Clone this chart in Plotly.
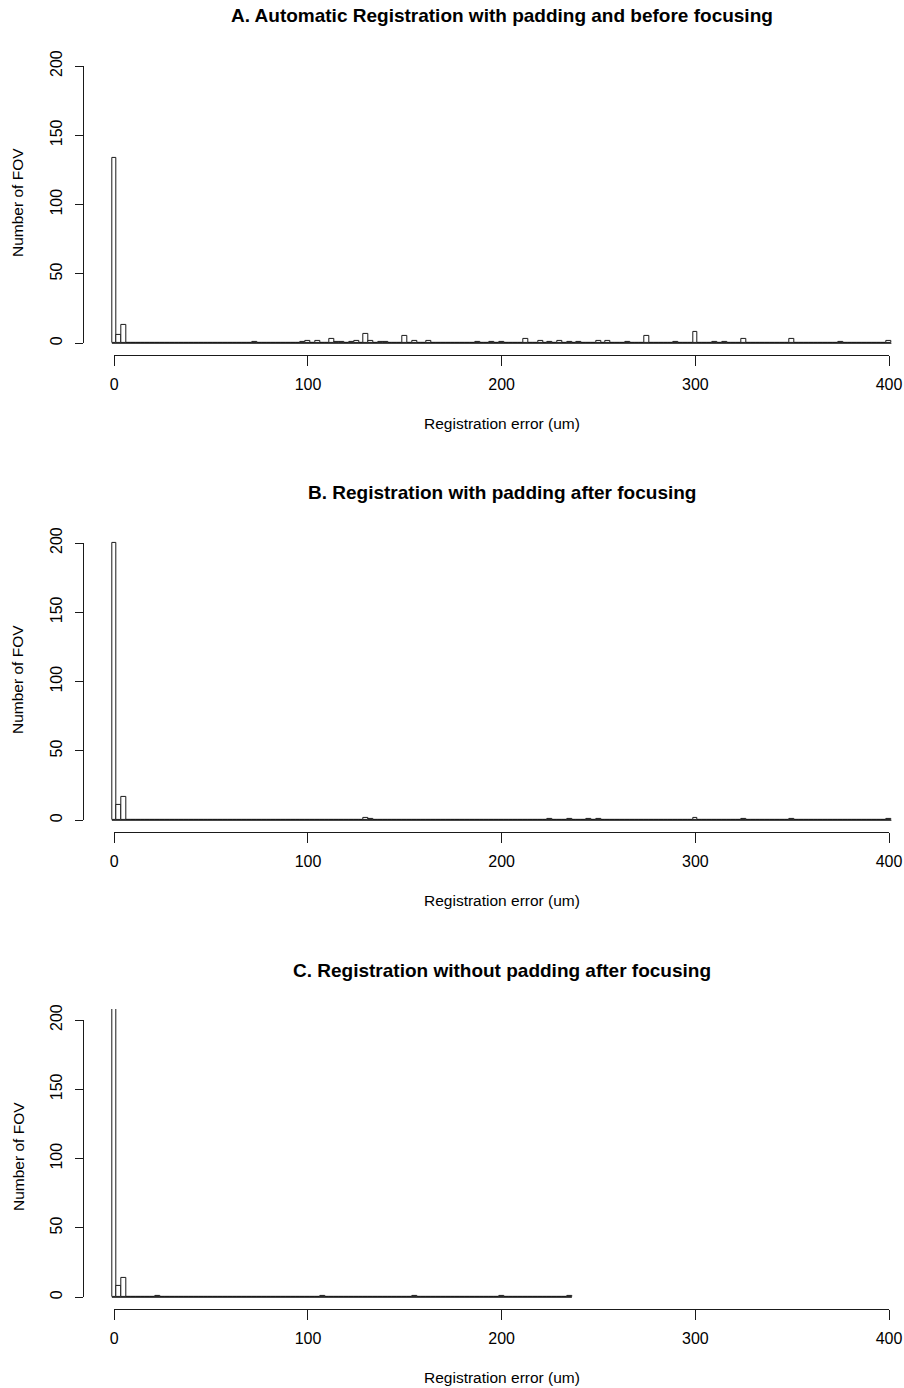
import plotly.graph_objects as go

# ---------------- data (histogram bins: centre, count) ----------------
BIN_WIDTH = 2.5

a_centers = [0, 2.5, 5, 72.5, 97.5, 100, 105, 112.5, 115, 117.5, 122.5, 125, 130, 132.5,
             137.5, 140, 150, 155, 162.5, 187.5, 195, 200, 212.5, 220, 225, 230, 235, 240,
             250, 255, 265, 275, 290, 300, 310, 315, 325, 350, 375, 400]
a_counts = [134, 6, 13, 1, 1, 2, 2, 3, 1, 1, 1, 2, 7, 2,
            1, 1, 5, 2, 2, 1, 1, 1, 3, 2, 1, 2, 1, 1,
            2, 2, 1, 5, 1, 8, 1, 1, 3, 3, 1, 2]

b_centers = [0, 2.5, 5, 130, 132.5, 225, 235, 245, 250, 300, 325, 350, 400]
b_counts = [200, 11, 17, 2, 1, 1, 1, 1, 1, 2, 1, 1, 1]

c_centers = [0, 2.5, 5, 22.5, 107.5, 155, 200, 235]
c_counts = [250, 8, 14, 1, 1, 1, 1, 1]

titles = ["A. Automatic Registration with padding and before focusing",
          "B. Registration with padding after focusing",
          "C. Registration without padding after focusing"]
x_label = "Registration error (um)"
y_label = "Number of FOV"
x_ticks = [0, 100, 200, 300, 400]
y_ticks = [0, 50, 100, 150, 200]

panels = [(a_centers, a_counts), (b_centers, b_counts), (c_centers, c_counts)]

# ---------------- layout geometry (pixels) ----------------
W, H = 904, 1388
STEP = 477
FONT = "Liberation Sans, Arial, sans-serif"
LINE = "#1a1a1a"

X0_PX, X400_PX = 114.3, 889.0
PX_PER_X = (X400_PX - X0_PX) / 400
PLOT_LEFT_PX = 83.3
Y0_PX, Y200_PX = 343.3, 66.0
PX_PER_Y = (Y0_PX - Y200_PX) / 200


def px_x(p):
    return p / W


def px_y(p):
    return 1 - p / H


fig = go.Figure()
layout = dict(
    template="none",
    width=W, height=H, autosize=False,
    margin=dict(l=0, r=0, t=0, b=0, pad=0, autoexpand=False),
    paper_bgcolor="white",
    plot_bgcolor="rgba(0,0,0,0)",
    showlegend=False,
    bargap=0,
    font=dict(family=FONT, size=16, color="black"),
)
annotations = []

for k, (centers, counts) in enumerate(panels):
    d = STEP * k
    main_id = k + 1
    deco_id = k + 4
    mx = "x" if main_id == 1 else f"x{main_id}"
    my = "y" if main_id == 1 else f"y{main_id}"
    dx, dy = f"x{deco_id}", f"y{deco_id}"

    # full bin arrays (zero-count bins included)
    n = int(round(max(centers) / BIN_WIDTH)) + 1
    full_x = [i * BIN_WIDTH for i in range(n)]
    full_y = [0] * n
    for c, v in zip(centers, counts):
        full_y[int(round(c / BIN_WIDTH))] = v

    fig.add_trace(go.Bar(
        x=full_x, y=full_y, width=BIN_WIDTH,
        marker=dict(color="white", line=dict(color=LINE, width=1)),
        xaxis=mx, yaxis=my, hoverinfo="skip",
    ))
    # baseline drawn by zero-height bins in R
    fig.add_trace(go.Scatter(
        x=[full_x[0] - BIN_WIDTH / 2, full_x[-1] + BIN_WIDTH / 2], y=[0, 0],
        mode="lines", line=dict(color=LINE, width=1),
        xaxis=mx, yaxis=my, hoverinfo="skip",
    ))
    # dummy trace to create decoration axes subplot
    fig.add_trace(go.Scatter(x=[None], y=[None], mode="markers",
                             xaxis=dx, yaxis=dy, hoverinfo="skip"))

    # data region
    x_lo = -(X0_PX - PLOT_LEFT_PX) / PX_PER_X
    x_hi = 400 + (W - X400_PX) / PX_PER_X
    top_px = Y200_PX - 8 * PX_PER_Y + d
    bot_px = Y0_PX + 8 * PX_PER_Y + d

    xkey = "xaxis" if main_id == 1 else f"xaxis{main_id}"
    ykey = "yaxis" if main_id == 1 else f"yaxis{main_id}"
    layout[xkey] = dict(domain=[px_x(PLOT_LEFT_PX), 1], range=[x_lo, x_hi],
                        visible=False, anchor=my, fixedrange=True, automargin=False)
    layout[ykey] = dict(domain=[px_y(bot_px), px_y(top_px)], range=[-8, 208],
                        visible=False, anchor=mx, fixedrange=True, automargin=False)

    # R-style axes (line only across tick span)
    layout[f"xaxis{deco_id}"] = dict(
        domain=[px_x(X0_PX), px_x(X400_PX)], range=[0, 400],
        anchor="free", position=px_y(355 + d),
        tickvals=x_ticks, ticktext=[str(t) for t in x_ticks],
        ticks="outside", ticklen=10, tickwidth=1, tickcolor=LINE,
        showline=True, linecolor=LINE, linewidth=1,
        showgrid=False, zeroline=False, automargin=False,
        tickfont=dict(family=FONT, size=16, color="black"),
        ticklabelstandoff=5, fixedrange=True,
    )
    layout[f"yaxis{deco_id}"] = dict(
        domain=[px_y(Y0_PX + d), px_y(Y200_PX + d)], range=[0, 200],
        anchor="free", position=px_x(PLOT_LEFT_PX),
        tickvals=y_ticks, ticktext=[str(t) for t in y_ticks],
        ticks="outside", ticklen=8, tickwidth=1, tickcolor=LINE,
        showline=True, linecolor=LINE, linewidth=1,
        showgrid=False, zeroline=False, tickangle=-90, automargin=False,
        tickfont=dict(family=FONT, size=16, color="black"),
        ticklabelstandoff=7, fixedrange=True,
    )

    annotations.append(dict(text=f"<b>{titles[k]}</b>", x=px_x(502), y=px_y(16 + d),
                            xref="paper", yref="paper", showarrow=False,
                            xanchor="center", yanchor="middle",
                            font=dict(family=FONT, size=19, color="black")))
    annotations.append(dict(text=x_label, x=px_x(501.6), y=px_y(423 + d),
                            xref="paper", yref="paper", showarrow=False,
                            xanchor="center", yanchor="middle",
                            font=dict(family=FONT, size=15.5, color="black")))
    annotations.append(dict(text=y_label, x=px_x(18), y=px_y(203 + d),
                            xref="paper", yref="paper", showarrow=False,
                            textangle=-90, xanchor="center", yanchor="middle",
                            font=dict(family=FONT, size=15.5, color="black")))

layout["annotations"] = annotations
fig.update_layout(**layout)
fig.write_html(
    "out.html",
    config={"displayModeBar": False, "responsive": False},
    post_script="document.documentElement.style.margin='0';"
                "document.body.style.margin='0';"
                "document.body.style.padding='0';"
                "document.body.style.overflow='hidden';"
                "document.documentElement.style.overflow='hidden';",
)
